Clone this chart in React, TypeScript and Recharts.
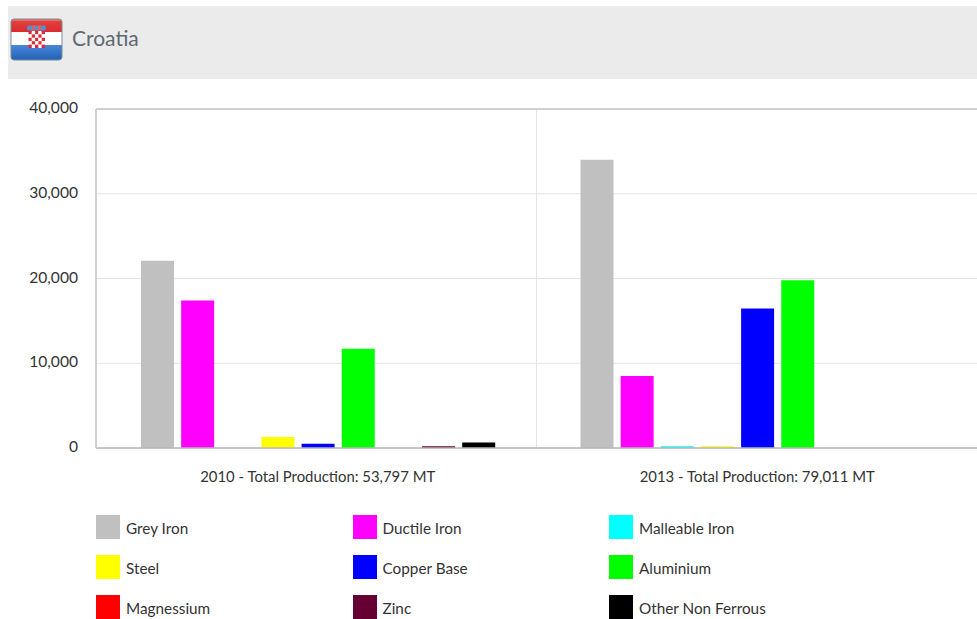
import { BarChart, Bar, XAxis, YAxis, CartesianGrid, ReferenceLine } from 'recharts';

// ── Data ────────────────────────────────────────────────────────────────────
const YEARS = ['2010 - Total Production: 53,797 MT', '2013 - Total Production: 79,011 MT'];
const Y_TICKS = [0, 10000, 20000, 30000, 40000];

const GREY_IRON = [22100, 34000];
const DUCTILE_IRON = [17400, 8500];
const MALLEABLE_IRON = [0, 200];
const STEEL = [1300, 200];
const COPPER_BASE = [500, 16450];
const ALUMINIUM = [11700, 19800];
const MAGNESSIUM = [0, 0];
const ZINC = [200, 0];
const OTHER_NON_FERROUS = [650, 0];

const SERIES = [
    { name: 'Grey Iron', color: '#c0c0c0', values: GREY_IRON },
    { name: 'Ductile Iron', color: '#ff00ff', values: DUCTILE_IRON },
    { name: 'Malleable Iron', color: '#00ffff', values: MALLEABLE_IRON },
    { name: 'Steel', color: '#ffff00', values: STEEL },
    { name: 'Copper Base', color: '#0000ff', values: COPPER_BASE },
    { name: 'Aluminium', color: '#00ff00', values: ALUMINIUM },
    { name: 'Magnessium', color: '#ff0000', values: MAGNESSIUM },
    { name: 'Zinc', color: '#660033', values: ZINC },
    { name: 'Other Non Ferrous', color: '#000000', values: OTHER_NON_FERROUS },
];

const DATA = YEARS.map((year, i) => {
    const row: Record<string, string | number> = { year };
    SERIES.forEach((s) => { row[s.name] = s.values[i]; });
    return row;
});

const FONT = 'Lato, "Open Sans", sans-serif';
const TEXT = '#333333';

// ── Flag ────────────────────────────────────────────────────────────────────
const Flag = () => {
    const squares = [];
    for (let r = 0; r < 5; r++) {
        for (let c = 0; c < 5; c++) {
            squares.push(
                <rect key={`${r}-${c}`} x={18.5 + c * 3.3} y={13 + r * 3.4} width={3.3} height={3.4}
                    fill={(r + c) % 2 === 0 ? '#dc2a36' : '#ffffff'} />
            );
        }
    }
    return (
        <svg width={53} height={43} style={{ position: 'absolute', left: 10, top: 18 }}>
            <defs>
                <linearGradient id="redBand" x1="0" y1="0" x2="0" y2="1">
                    <stop offset="0%" stopColor="#e2473f" />
                    <stop offset="100%" stopColor="#d92b2f" />
                </linearGradient>
                <linearGradient id="blueBand" x1="0" y1="0" x2="0" y2="1">
                    <stop offset="0%" stopColor="#4a86d8" />
                    <stop offset="100%" stopColor="#1c5fb4" />
                </linearGradient>
                <clipPath id="flagClip">
                    <rect x={1} y={1} width={51} height={41} rx={3} />
                </clipPath>
            </defs>
            <g clipPath="url(#flagClip)">
                <rect x={0} y={0} width={53} height={14} fill="url(#redBand)" />
                <rect x={0} y={14} width={53} height={13} fill="#ffffff" />
                <rect x={0} y={27} width={53} height={16} fill="url(#blueBand)" />
                <rect x={0} y={1} width={53} height={2} fill="#f0807a" opacity={0.7} />
            </g>
            <rect x={17} y={7.5} width={19} height={5} rx={1.5} fill="#5b8cc8" />
            <rect x={22} y={7.5} width={3} height={5} fill="#d8606a" />
            <rect x={28} y={7.5} width={3} height={5} fill="#d8606a" />
            {squares}
            <rect x={1} y={1} width={51} height={41} rx={3} fill="none" stroke="#7d8c99" strokeWidth={1} />
        </svg>
    );
};

// ── App ─────────────────────────────────────────────────────────────────────
export default function App() {
    return (
        <div style={{ position: 'absolute', left: 0, top: 0, width: 977, height: 619, background: '#fff', fontFamily: FONT, overflow: 'hidden' }}>
            {/* Header */}
            <div style={{ position: 'absolute', left: 8, top: 6, width: 969, height: 73, background: '#ebebeb' }} />
            <Flag />
            <div style={{ position: 'absolute', left: 72, top: 25, fontSize: 21, lineHeight: '25px', color: '#5d6a73' }}>Croatia</div>

            {/* Chart */}
            <div style={{ position: 'absolute', left: 0, top: 98.5 }}>
                <BarChart
                    width={977}
                    height={390}
                    data={DATA}
                    margin={{ top: 10, right: 0, left: 0, bottom: 0 }}
                    barCategoryGap="10%"
                    barGap={7.15}
                    barSize={33}
                >
                    <CartesianGrid
                        stroke="#e4e4e4"
                        verticalCoordinatesGenerator={({ offset }: any) => [offset.left, offset.left + offset.width / 2]}
                    />
                    <ReferenceLine y={40000} stroke="#c4c4c4" strokeWidth={1.5} />
                    <XAxis
                        dataKey="year"
                        padding={{ left: 2, right: 0 }}
                        tickLine={false}
                        axisLine={{ stroke: '#b8b8b8', strokeWidth: 1.5 }}
                        tick={{ fontSize: 14.9, fill: TEXT, fontFamily: FONT }}
                        tickMargin={17}
                        height={41}
                    />
                    <YAxis
                        width={96}
                        domain={[0, 40000]}
                        ticks={Y_TICKS}
                        tickFormatter={(v) => v.toLocaleString('en-US')}
                        tickLine={false}
                        axisLine={{ stroke: '#c4c4c4', strokeWidth: 1.5 }}
                        tick={{ fontSize: 15.6, fill: TEXT, fontFamily: FONT, dy: -1.5 }}
                        tickMargin={12}
                    />
                    {SERIES.map((s) => (
                        <Bar key={s.name} dataKey={s.name} fill={s.color} isAnimationActive={false} />
                    ))}
                </BarChart>
            </div>

            {/* Legend */}
            <div style={{ position: 'absolute', left: 96, top: 515, display: 'grid', gridTemplateColumns: 'repeat(3, 256.5px)', gridAutoRows: '39.8px' }}>
                {SERIES.map((s) => (
                    <div key={s.name} style={{ display: 'flex', alignItems: 'flex-start' }}>
                        <span style={{ width: 24, height: 24, background: s.color, display: 'inline-block', flex: 'none' }} />
                        <span style={{ marginLeft: 6, fontSize: 15.3, lineHeight: '27px', color: TEXT }}>{s.name}</span>
                    </div>
                ))}
            </div>
        </div>
    );
}
